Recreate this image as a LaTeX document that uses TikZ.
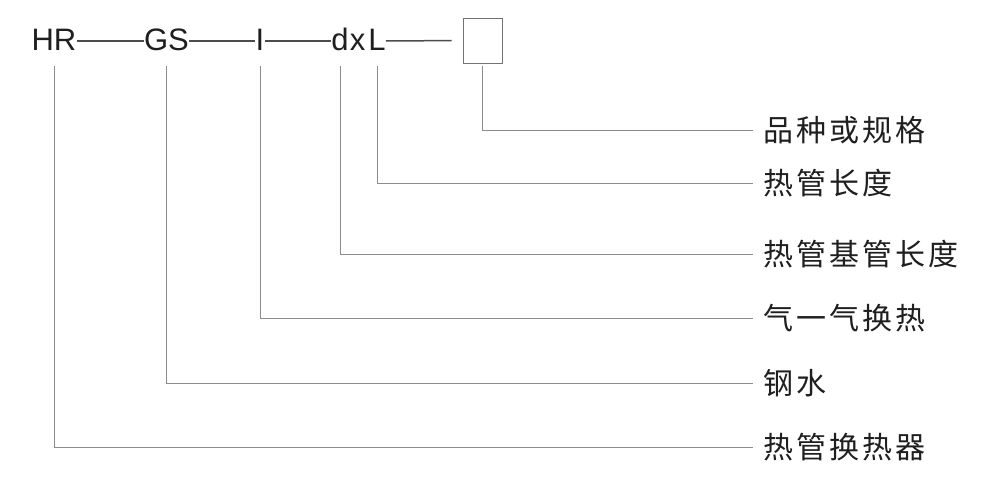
\documentclass[tikz,border=0pt]{standalone}
\usepackage{fontspec}
\setmainfont{Liberation Sans}
\newfontfamily\cjk[LetterSpace=10]{Noto Sans CJK SC}
\begin{document}
\begin{tikzpicture}[x=1pt,y=-1pt,
  code/.style={inner sep=0pt, anchor=base, font=\fontsize{31}{31}\selectfont, text=black!88, text height=20pt, text depth=0pt},
  lbl/.style={anchor=west, inner xsep=10pt, inner ysep=0pt, font=\cjk\fontsize{30}{30}\selectfont, text=black!88, text height=24.9pt, text depth=2.1pt},
  conn/.style={draw=black!45, line width=0.9pt},
  codedash/.style={draw=black!70, line width=1.5pt}]
\useasboundingbox[fill=white] (0,0) rectangle (1003,481);
% code parts
\node[code] (HR) at (54,51) {HR};
\node[code] (GS) at (166.5,51) {GS};
\node[code] (I) at (260,51) {I};
\node[code] (d) at (340,51) {d};
\node[code] (xx) at (357.5,51) {x};
\node[code] (L) at (377,51) {L};
\node[draw=black!55, line width=0.9pt, minimum width=39pt, minimum height=45pt, inner sep=0pt] (box) at (482.5,40.5) {};
% labels
\node[lbl] (t1) at (753,130) {品种或规格};
\node[lbl] (t2) at (753,183) {热管长度};
\node[lbl] (t3) at (753,254) {热管基管长度};
\node[lbl] (t4) at (753,318) {气一气换热};
\node[lbl] (t5) at (753,383) {钢水};
\node[lbl] (t6) at (753,447) {热管换热器};
% dashes in code
\draw[codedash] (HR.east) -- (GS.west);
\draw[codedash] (GS.east) -- (I.west);
\draw[codedash] (I.east) -- (d.west);
\draw[codedash, shorten >=11pt] (L.east) -- (box.west);
% leaders
\draw[conn] ([yshift=-3pt]box.south) |- (t1.west);
\draw[conn] ([yshift=-15pt]L.south) |- (t2.west);
\draw[conn] ([yshift=-15pt]d.south) |- (t3.west);
\draw[conn] ([yshift=-15pt]I.south) |- (t4.west);
\draw[conn] ([yshift=-15pt]GS.south) |- (t5.west);
\draw[conn] ([yshift=-15pt]HR.south) |- (t6.west);
\end{tikzpicture}
\end{document}
